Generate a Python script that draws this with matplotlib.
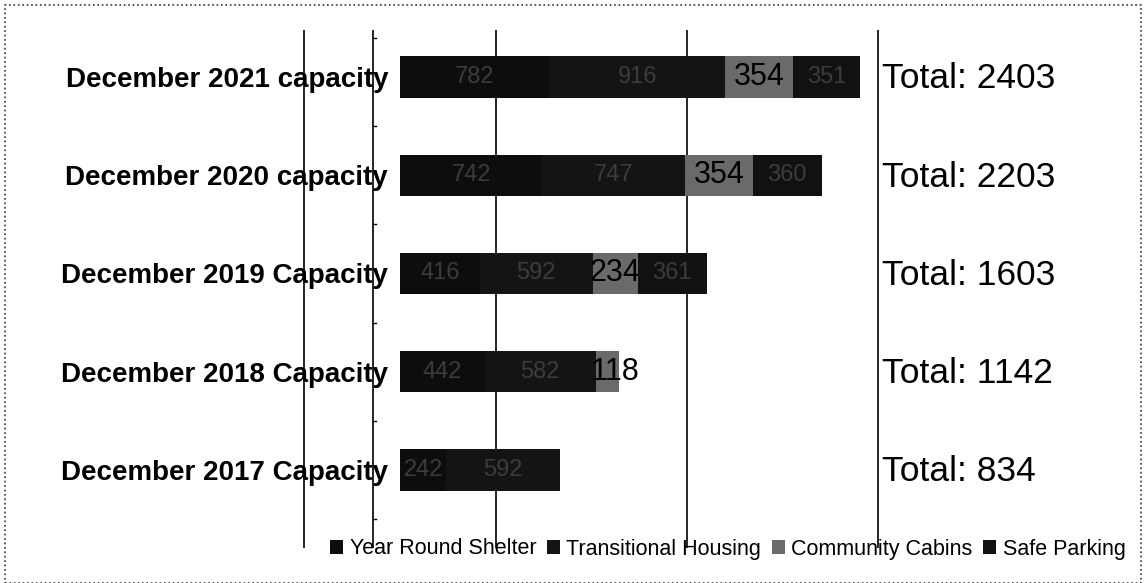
import matplotlib.pyplot as plt
from matplotlib.patches import Rectangle

# categories, bottom to top
categories = ['December 2017 Capacity', 'December 2018 Capacity', 'December 2019 Capacity',
              'December 2020 capacity', 'December 2021 capacity']
year_round = [242, 442, 416, 742, 782]
transitional = [592, 582, 592, 747, 916]
cabins = [0, 118, 234, 354, 354]
safe_parking = [0, 0, 361, 360, 351]
totals = [834, 1142, 1603, 2203, 2403]
series_names = ['Year Round Shelter', 'Transitional Housing', 'Community Cabins', 'Safe Parking']

plt.rcParams['font.family'] = ['Liberation Sans', 'DejaVu Sans']

W, H = 1146, 583
fig = plt.figure(figsize=(W / 100, H / 100), dpi=100)

# axes placed in pixel terms: x=0 at px 400, 1 unit = 0.1914 px
px_per = 0.1914
ax_l, ax_r = 280, 1140
ax_t, ax_b = 30, 548
ax = fig.add_axes([ax_l / W, 1 - ax_b / H, (ax_r - ax_l) / W, (ax_b - ax_t) / H])
ax.set_xlim((ax_l - 400) / px_per, (ax_r - 400) / px_per)
ax.set_ylim(-(ax_b - 470) / 98.25, 4 + (77 - ax_t) / 98.25)
for s in ax.spines.values():
    s.set_visible(False)
ax.set_xticks([])
ax.set_yticks([])

# gridlines and category axis
for gx in [-500, 500, 1500, 2500]:
    ax.axvline(gx, color='black', lw=1.2, zorder=0)
axis_x = (373 - 400) / px_per
ax.axvline(axis_x, color='black', lw=1.2, zorder=0)
for ty in [-0.5, 0.5, 1.5, 2.5, 3.5, 4.4]:
    ax.plot([axis_x, axis_x + 15], [ty, ty], color='black', lw=1, zorder=0)

ys = list(range(len(categories)))
colors = ['#0d0d0d', '#141414', '#6a6a6a', '#111111']
series = [year_round, transitional, cabins, safe_parking]
left = [0] * len(ys)
bh = 0.42
for vals, col, name in zip(series, colors, series_names):
    ax.barh(ys, vals, left=left, height=bh, color=col, label=name, zorder=2)
    for y, v, l in zip(ys, vals, left):
        if v == 0:
            continue
        if col == '#6a6a6a':
            ax.text(l + v / 2 + (40 if v < 150 else 0), y, str(v), ha='center',
                    va='center', fontsize=22, color='black', zorder=3)
        else:
            ax.text(l + v / 2, y, str(v), ha='center', va='center', fontsize=17,
                    color='#3c3c3c', zorder=3)
    left = [a + b for a, b in zip(left, vals)]

for y, c, t in zip(ys, categories, totals):
    ax.text(-12 / px_per, y - 0.03, c, ha='right', va='center', fontsize=20,
            fontweight='bold', color='black', zorder=3)
    ax.text(2520, y - 0.02, f'Total: {t}', ha='left', va='center', fontsize=25.5,
            color='black')

leg = ax.legend(loc='center', bbox_to_anchor=(728 / W, 1 - 549 / H),
                bbox_transform=fig.transFigure, ncol=4, frameon=False,
                fontsize=15.5, handlelength=0.6, handleheight=0.6,
                handletextpad=0.3, columnspacing=0.5)

fig.patches.append(Rectangle((5 / W, 0), (W - 10) / W, 1 - 5 / H, transform=fig.transFigure,
                             fill=False, lw=1.2, ls=':', edgecolor='#333'))

fig.savefig('out.png', dpi=100, facecolor='white')
